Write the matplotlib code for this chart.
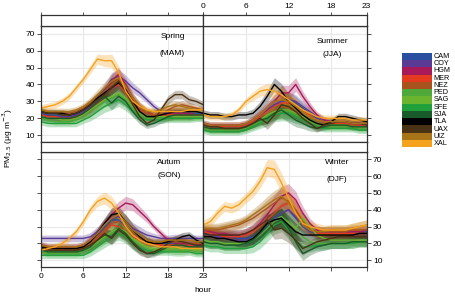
import matplotlib
matplotlib.use("Agg")
import matplotlib.pyplot as plt
from matplotlib.patches import Rectangle

plt.rcParams['font.family'] = ['Liberation Sans', 'DejaVu Sans']

hours = list(range(24))
stations = ["CAM", "COY", "HGM", "MER", "NEZ", "PED", "SAG", "SFE", "SJA", "TLA", "UAX", "UIZ", "XAL"]
colors = ["#2B4FA0", "#5B3A96", "#A8195A", "#E43A20", "#A8531E", "#4EA83A", "#6BB52E",
          "#20A03A", "#185A2A", "#000000", "#4A3215", "#A87418", "#F5A21E"]

spring = {
    "CAM": [23,22,22,21,21,22,24,27,31,35,38,40,36,30,26,23,22,22,23,23,23,23,23,23],
    "COY": [22,21,21,21,21,22,24,27,31,37,43,45,42,38,35,31,27,24,23,23,23,22,22,22],
    "HGM": [22,21,20,20,20,21,22,24,28,34,42,46,40,32,27,24,22,22,23,23,23,23,22,22],
    "MER": [22,21,21,20,20,21,23,26,30,34,38,40,35,29,25,23,22,22,22,22,22,22,22,22],
    "NEZ": [24,23,23,23,23,24,26,29,32,36,40,43,38,31,26,23,22,23,25,27,28,27,26,25],
    "PED": [20,19,18,18,18,19,21,24,27,30,32,34,31,26,22,20,20,20,21,21,21,21,21,21],
    "SAG": [21,20,20,19,19,20,22,25,28,31,33,35,32,27,23,21,21,21,21,21,21,21,21,21],
    "SFE": [18,17,17,17,17,17,19,21,24,27,29,31,28,24,21,19,19,19,20,20,20,20,20,20],
    "SJA": [21,20,20,20,20,21,23,26,30,33,29,33,30,24,19,16,17,19,21,22,22,22,22,22],
    "TLA": [24,23,23,23,22,23,25,28,32,35,38,41,37,30,24,21,21,22,23,24,24,24,24,23],
    "UAX": [24,23,23,22,22,23,25,28,31,34,38,42,36,28,21,17,19,25,31,34,34,31,30,28],
    "UIZ": [25,24,24,24,24,25,27,30,34,38,42,44,39,32,27,24,24,25,27,28,27,26,25,25],
    "XAL": [26,27,28,30,33,38,43,49,55,54,54,47,36,30,27,25,24,24,24,24,24,25,25,25],
}
summer = {
    "CAM": [16,15,15,15,15,15,16,18,21,25,28,30,31,29,26,23,20,18,17,17,17,16,16,16],
    "COY": [16,15,15,15,15,15,16,18,21,25,28,30,31,30,27,24,21,19,18,17,17,17,16,16],
    "HGM": [17,16,16,16,16,16,17,19,22,26,30,35,35,40,33,27,22,19,18,18,18,17,17,17],
    "MER": [16,15,15,15,15,15,16,18,21,24,27,29,29,27,24,22,19,18,17,17,17,16,16,16],
    "NEZ": [15,14,14,14,14,14,15,17,19,22,25,27,26,24,21,19,17,16,16,16,16,16,15,15],
    "PED": [14,13,13,13,13,13,14,16,18,21,23,24,24,22,20,18,16,15,15,15,15,15,14,14],
    "SAG": [15,14,14,14,14,14,15,17,19,22,24,25,25,23,21,19,17,16,16,16,16,15,15,15],
    "SFE": [13,12,12,12,12,12,13,15,17,19,22,23,23,21,19,17,15,14,14,14,14,14,13,13],
    "SJA": [15,14,14,14,14,14,15,17,19,20,23,25,22,19,17,15,14,15,16,16,16,15,15,15],
    "TLA": [23,22,22,21,21,22,22,23,27,33,40,36,30,26,22,19,17,16,18,21,21,20,19,18],
    "UAX": [16,15,15,14,14,14,15,17,20,17,22,28,27,24,20,17,14,16,17,18,18,17,17,16],
    "UIZ": [17,16,16,16,16,16,17,19,22,26,30,31,30,27,24,21,19,18,18,18,18,17,17,17],
    "XAL": [22,21,21,21,22,25,30,33,36,37,36,34,31,28,25,23,21,20,20,20,20,19,19,19],
}
autumn = {
    "CAM": [18,17,17,16,16,16,17,19,24,30,34,34,30,26,23,21,20,20,20,20,20,19,19,19],
    "COY": [23,23,23,23,23,23,23,24,27,31,35,36,33,29,27,25,24,23,23,23,23,23,23,23],
    "HGM": [19,18,18,18,18,18,19,22,26,31,37,41,44,43,39,35,30,26,22,20,20,20,20,19],
    "MER": [18,17,17,16,16,16,17,19,23,27,31,30,27,24,22,20,20,19,19,19,19,19,18,18],
    "NEZ": [18,17,17,17,17,17,18,20,24,28,32,33,30,26,23,21,21,21,21,21,21,20,20,20],
    "PED": [15,14,14,14,14,14,15,17,20,23,26,28,26,22,19,17,16,16,16,16,16,16,15,15],
    "SAG": [16,15,15,15,15,15,16,18,21,24,27,29,27,23,20,18,17,17,17,17,17,17,16,16],
    "SFE": [13,13,13,13,13,13,13,15,18,21,24,26,24,20,17,16,15,15,15,15,15,15,14,14],
    "SJA": [16,15,15,15,15,15,16,18,22,25,24,29,26,21,17,14,14,16,18,19,19,18,18,18],
    "TLA": [18,17,17,17,17,17,18,21,26,32,37,38,33,28,24,21,20,20,21,22,24,25,22,20],
    "UAX": [17,16,16,16,16,16,17,19,22,26,23,28,25,20,16,14,15,17,20,22,21,20,19,19],
    "UIZ": [19,18,18,18,18,18,19,22,26,31,35,37,33,28,25,22,21,21,22,22,22,22,21,21],
    "XAL": [16,17,18,20,23,27,33,40,45,47,44,38,30,25,22,20,19,18,18,18,17,17,17,17],
}
winter = {
    "CAM": [27,26,25,24,24,23,23,24,27,31,35,38,40,35,30,27,26,26,26,26,26,26,26,26],
    "COY": [26,25,24,23,22,22,22,23,26,30,34,38,40,36,31,28,27,27,27,27,27,27,27,27],
    "HGM": [28,27,26,26,25,25,26,28,32,37,43,48,50,46,38,32,28,26,26,26,26,27,27,28],
    "MER": [27,26,25,24,24,24,25,27,30,34,38,42,44,40,33,28,26,26,26,26,26,26,26,26],
    "NEZ": [28,28,28,29,30,31,33,35,38,41,44,47,45,40,33,29,27,27,27,27,27,28,28,28],
    "PED": [21,20,20,19,19,19,20,22,25,29,33,35,33,28,24,21,20,20,20,20,20,20,21,21],
    "SAG": [22,21,21,20,20,20,21,23,27,31,34,36,32,29,35,30,25,23,22,22,22,22,22,22],
    "SFE": [19,18,18,17,17,17,17,18,21,26,31,33,28,22,18,18,19,19,20,20,20,20,21,21],
    "SJA": [21,20,20,19,19,19,20,22,26,31,34,35,29,21,14,16,18,19,20,20,20,21,21,21],
    "TLA": [24,24,23,23,22,21,21,23,27,32,34,35,31,27,25,25,25,25,25,25,25,25,26,26],
    "UAX": [26,25,25,25,25,25,26,28,31,34,28,29,26,22,17,19,21,22,23,24,24,24,24,24],
    "UIZ": [29,29,29,30,31,32,34,37,40,43,46,48,44,38,31,28,27,27,28,28,28,29,30,31],
    "XAL": [31,33,38,42,41,43,47,51,57,65,64,56,47,38,32,30,29,28,28,28,28,29,30,31],
}

# half-width of the shaded band, by hour, per season
spring_ci = [2,2,2,2,2,2,2,2.5,3,3.5,4,4,3.5,3,2.5,2,2,2,2.5,2.5,2.5,2.5,2,2]
summer_ci = [2,2,2,2,2,2,2,2.5,3,3.5,4,4.5,4.5,4,3,2.5,2,2,2,2,2,2,2,2]
autumn_ci = [2,2,2,2,2,2,2,2.5,3,3.5,4,4,4,3.5,3,2.5,2,2,2,2.5,2.5,2,2,2]
winter_ci = [3,3,3,3,3,3,3,3.5,4,5,5.5,6,5.5,5,4,3,3,3,3,3,3,3,3,3]

seasons = [
    ("Spring", "(MAM)", spring, spring_ci),
    ("Summer", "(JJA)", summer, summer_ci),
    ("Autum", "(SON)", autumn, autumn_ci),
    ("Winter", "(DJF)", winter, winter_ci),
]

xticks = [0, 6, 12, 18, 23]
yticks = [10, 20, 30, 40, 50, 60, 70]

W, H = 456, 297
fig = plt.figure(figsize=(W / 100, H / 100), dpi=100)


def rect(x0, y0, x1, y1):
    return [x0 / W, 1 - y1 / H, (x1 - x0) / W, (y1 - y0) / H]


XL, XM, XR = 41, 203.3, 366.7
panels = [
    (XL, XM, 26, 141.7, 14.5),
    (XM, XR, 26, 141.7, 14.5),
    (XL, XM, 151.7, 266.7, 141.7),
    (XM, XR, 151.7, 266.7, 141.7),
]
fs = 6.0
frame_col = "#333333"
text_pos = [(0.81, 0.905, 0.76), (0.79, 0.87, 0.755), (0.79, 0.905, 0.79), (0.82, 0.905, 0.755)]

for i, ((name, code, data, ci), (x0, x1, y0, y1, s0)) in enumerate(zip(seasons, panels)):
    ax = fig.add_axes(rect(x0, y0, x1, y1))
    ax.set_xlim(0, 23)
    ax.set_ylim(6.2, 74.5)
    ax.set_xticks(xticks)
    ax.set_yticks(yticks)
    for x in [6, 12, 18]:
        ax.axvline(x, color="#E8E8E8", lw=0.8, zorder=0)
    for y in yticks:
        ax.axhline(y, color="#E8E8E8", lw=0.8, zorder=0)
    for st, col in zip(stations, colors):
        vals = data[st]
        lo = [v - c for v, c in zip(vals, ci)]
        hi = [v + c for v, c in zip(vals, ci)]
        ax.fill_between(hours, lo, hi, color=col, alpha=0.3, lw=0)
        ax.plot(hours, vals, color=col, lw=1.0)
    tx, ty1, ty2 = text_pos[i]
    ax.text(tx, ty1, name, transform=ax.transAxes, ha="center", va="center", fontsize=fs)
    ax.text(tx, ty2, code, transform=ax.transAxes, ha="center", va="center", fontsize=fs)
    for sp in ax.spines.values():
        sp.set_color(frame_col)
        sp.set_linewidth(0.9)
    ax.tick_params(length=3, width=0.6, color=frame_col, labelsize=fs, pad=1.5,
                   direction="out")
    left = i in (0, 2)
    top = i in (0, 1)
    ax.tick_params(axis="y", left=left, right=not left, labelleft=(i == 0), labelright=(i == 3))
    ax.tick_params(axis="x", top=False, bottom=not top, labelbottom=(i == 2))

    # strip
    sax = fig.add_axes(rect(x0, s0, x1, y0))
    sax.set_xlim(0, 23)
    sax.set_yticks([])
    sax.set_xticks(xticks)
    for sp in sax.spines.values():
        sp.set_color(frame_col)
        sp.set_linewidth(0.9)
    sax.tick_params(axis="x", bottom=False, labelbottom=False, length=2.5, width=0.6,
                    color=frame_col, labelsize=fs, pad=0.8)
    if top:
        sax.tick_params(axis="x", top=True, labeltop=(i == 1))
    else:
        sax.tick_params(axis="x", top=False, labeltop=False)

fig.text(XM / W, 1 - 291 / H, "hour", ha="center", va="center", fontsize=fs)
fig.text(8 / W, 1 - 138 / H, r"PM$_{2.5}$ ($\mathregular{\mu}$g m$^{-3}$)", rotation=90,
         ha="center", va="center", fontsize=fs)

# key
kx0, kx1, ky0, ky1 = 402, 431.7, 52.7, 147.3
n = len(stations)
step = (ky1 - ky0) / n
kax = fig.add_axes(rect(kx0, ky0, 456, ky1))
kax.set_xlim(kx0, 456)
kax.set_ylim(ky1, ky0)
kax.axis("off")
for j, (st, col) in enumerate(zip(stations, colors)):
    kax.add_patch(Rectangle((kx0, ky0 + j * step), kx1 - kx0, step, color=col, lw=0))
    kax.text(kx1 + 2.0, ky0 + (j + 0.5) * step, st, ha="left", va="center", fontsize=5.2)

fig.savefig("out.png", dpi=100)
